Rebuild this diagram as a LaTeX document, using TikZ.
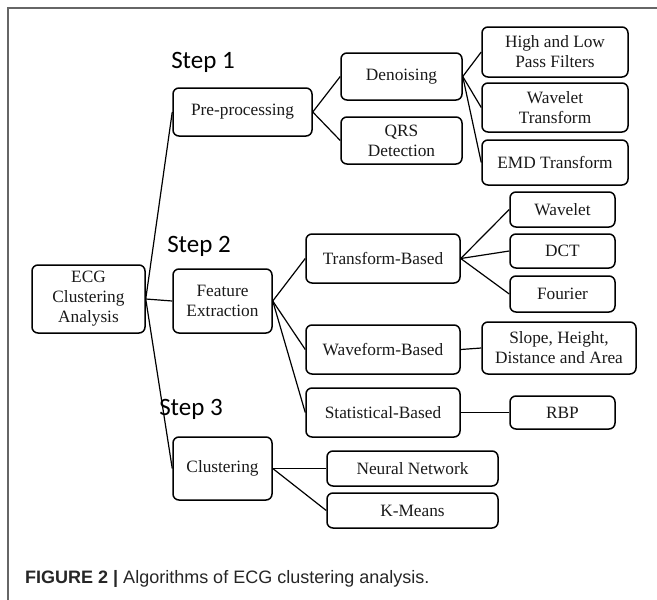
\documentclass[tikz,border=0pt]{standalone}
\usepackage{fontspec}
\setmainfont{Liberation Serif}
\newfontfamily\stepfont{Carlito}
\newfontfamily\capfont{Liberation Sans}
\begin{document}
\begin{tikzpicture}[x=1pt,y=-1pt,
  box/.style={draw, rounded corners=6pt, line width=1.5pt, align=center, inner sep=0pt,
    font=\fontsize{17.3}{20}\selectfont, text=black!90},
  conn/.style={line width=1.2pt},
  steplabel/.style={font=\stepfont\fontsize{25}{27}\selectfont, inner sep=0pt}]
\useasboundingbox (0,0) rectangle (657,600);
\draw[line width=1.5pt, black!60] (8,600) -- (8,8) -- (657,8);

\node[box, minimum width=113pt, minimum height=68pt] (ecg) at (88.5,299) {ECG\\Clustering\\Analysis};
\node[box, minimum width=139pt, minimum height=48pt] (pre) at (242.5,112) {Pre-processing};
\node[box, minimum width=99pt, minimum height=64pt] (feat) at (222.5,301) {Feature\\Extraction};
\node[box, minimum width=99pt, minimum height=63pt] (clus) at (222.5,468.5) {Clustering};

\node[box, minimum width=121pt, minimum height=47pt] (den) at (401.5,76.5) {Denoising};
\node[box, minimum width=121pt, minimum height=47pt] (qrs) at (401.5,140.5) {QRS\\Detection};

\node[box, minimum width=146pt, minimum height=50pt] (hlp) at (555,52) {High and Low\\Pass Filters};
\node[box, minimum width=146pt, minimum height=49pt] (wt) at (555,107.5) {Wavelet\\Transform};
\node[box, minimum width=146pt, minimum height=45pt] (emd) at (555,162.5) {EMD Transform};

\node[box, minimum width=154pt, minimum height=49pt] (tb) at (383,258.5) {Transform-Based};
\node[box, minimum width=154pt, minimum height=49pt] (wb) at (383,349.5) {Waveform-Based};
\node[box, minimum width=154pt, minimum height=49pt] (sb) at (383,412.5) {Statistical-Based};

\node[box, minimum width=105pt, minimum height=35pt] (wav) at (562.5,209.5) {Wavelet};
\node[box, minimum width=105pt, minimum height=34pt] (dct) at (562.5,251) {DCT};
\node[box, minimum width=105pt, minimum height=36pt] (four) at (562.5,294) {Fourier};
\node[box, minimum width=154pt, minimum height=52pt] (slope) at (559,348) {Slope, Height,\\Distance and Area};
\node[box, minimum width=105pt, minimum height=33pt] (rbp) at (562.5,412.5) {RBP};

\node[box, minimum width=171pt, minimum height=35pt] (nn) at (412.5,468.5) {Neural Network};
\node[box, minimum width=171pt, minimum height=35pt] (km) at (412.5,510.5) {K-Means};

\node[steplabel] (s1) at (203,62) {Step 1};
\node[steplabel] (s2) at (199,246) {Step 2};
\node[steplabel] (s3) at (191,409) {Step 3};

\draw[conn] (ecg.east) -- (pre.west);
\draw[conn] (ecg.east) -- (feat.west);
\draw[conn] (ecg.east) -- (clus.west);
\draw[conn] (pre.east) -- (den.west);
\draw[conn] (pre.east) -- (qrs.west);
\draw[conn] (den.east) -- (hlp.west);
\draw[conn] (den.east) -- (wt.west);
\draw[conn] (den.east) -- (emd.west);
\draw[conn] (feat.east) -- (tb.west);
\draw[conn] (feat.east) -- (wb.west);
\draw[conn] (feat.east) -- (sb.west);
\draw[conn] (tb.east) -- (wav.west);
\draw[conn] (tb.east) -- (dct.west);
\draw[conn] (tb.east) -- (four.west);
\draw[conn] (wb.east) -- (slope.west);
\draw[conn] (sb.east) -- (rbp.west);
\draw[conn] (clus.east) -- (nn.west);
\draw[conn] (clus.east) -- (km.west);

\node[anchor=base west, inner sep=0pt, font=\capfont\fontsize{18}{21}\selectfont, text=black!85] (cap) at (25,583)
  {\textbf{FIGURE 2 |} Algorithms of ECG clustering analysis.};
\end{tikzpicture}
\end{document}
